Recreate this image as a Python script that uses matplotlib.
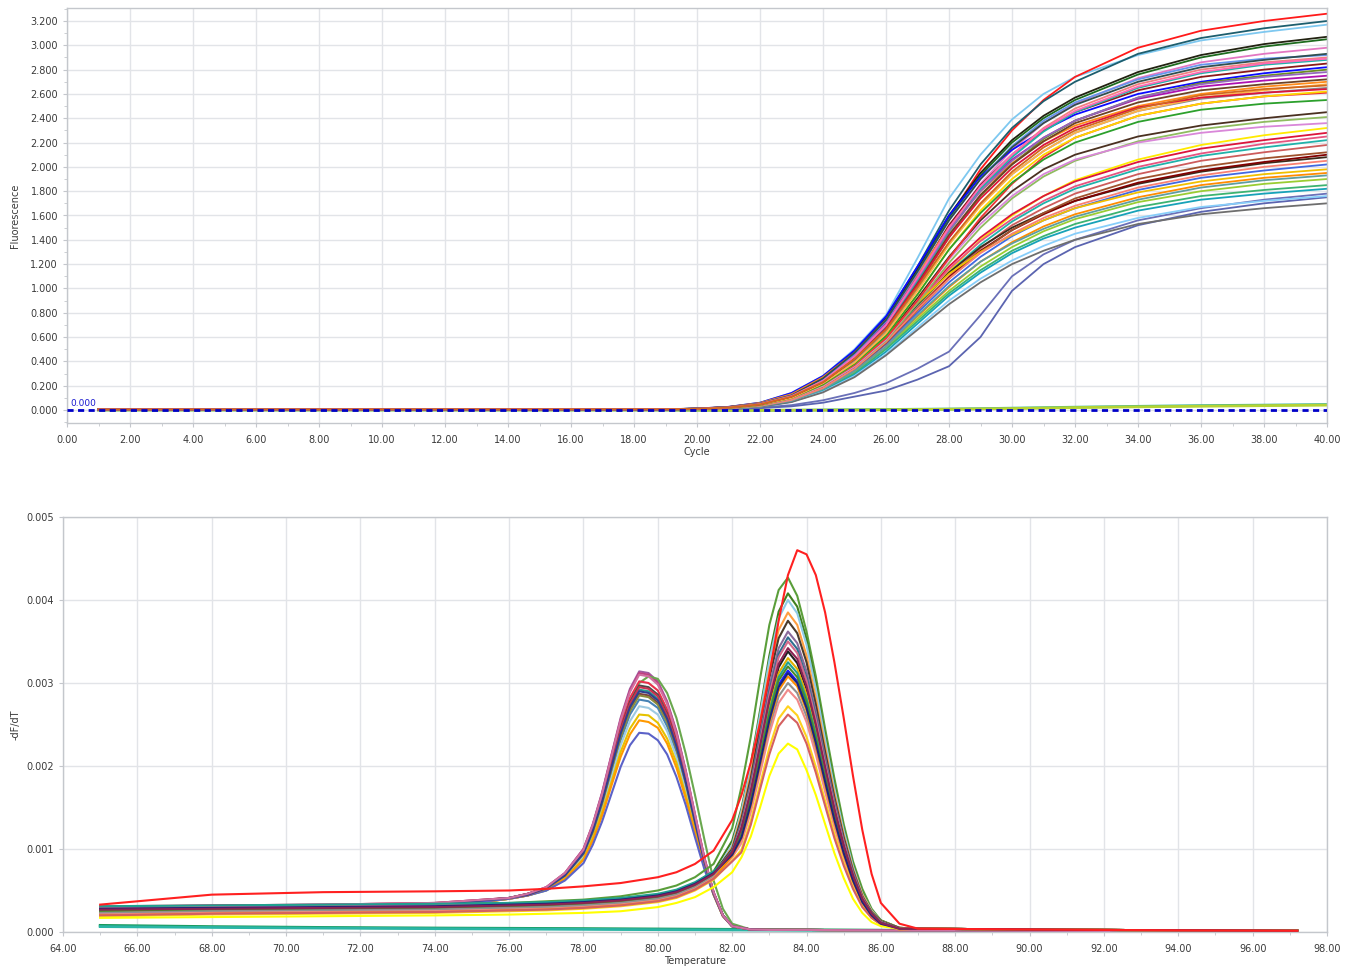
import matplotlib
matplotlib.use("Agg")
import matplotlib.pyplot as plt
from matplotlib.ticker import MultipleLocator, FormatStrFormatter

# ---------------- amplification data (Fluorescence vs Cycle) ----------------
CYCLES = [1, 19, 20, 21, 22, 23, 24, 25, 26, 27, 28, 29, 30, 31, 32, 34, 36, 38, 40]

AMP_UPPER = [
    [0.005,0.006,0.012,0.025,0.06,0.14,0.28,0.50,0.78,1.25,1.74,2.10,2.39,2.60,2.74,2.92,3.04,3.11,3.17],
    [0.005,0.006,0.01,0.022,0.05,0.12,0.25,0.45,0.72,1.12,1.58,1.98,2.30,2.55,2.74,2.98,3.12,3.20,3.26],
    [0.005,0.006,0.011,0.024,0.055,0.13,0.27,0.48,0.76,1.18,1.64,2.02,2.32,2.54,2.70,2.93,3.06,3.14,3.20],
    [0.005,0.006,0.011,0.024,0.056,0.13,0.27,0.48,0.75,1.16,1.60,1.95,2.22,2.42,2.57,2.78,2.92,3.01,3.07],
    [0.005,0.006,0.011,0.023,0.054,0.13,0.26,0.47,0.74,1.14,1.58,1.93,2.20,2.40,2.55,2.76,2.90,2.99,3.05],
    [0.005,0.006,0.01,0.021,0.05,0.12,0.24,0.43,0.69,1.07,1.50,1.86,2.14,2.36,2.52,2.73,2.86,2.93,2.98],
    [0.005,0.006,0.012,0.026,0.06,0.14,0.28,0.49,0.77,1.18,1.60,1.92,2.14,2.30,2.43,2.60,2.70,2.77,2.82],
    [0.005,0.006,0.01,0.022,0.05,0.12,0.25,0.45,0.71,1.10,1.52,1.85,2.10,2.30,2.45,2.63,2.74,2.80,2.85],
    [0.005,0.006,0.011,0.023,0.053,0.12,0.25,0.45,0.72,1.11,1.50,1.82,2.06,2.24,2.38,2.56,2.66,2.71,2.75],
    [0.005,0.006,0.012,0.025,0.058,0.13,0.27,0.47,0.74,1.12,1.50,1.80,2.03,2.21,2.34,2.50,2.60,2.66,2.70],
    [0.005,0.006,0.01,0.02,0.047,0.11,0.23,0.42,0.67,1.04,1.46,1.82,2.10,2.32,2.48,2.68,2.80,2.86,2.90],
    [0.005,0.006,0.01,0.021,0.049,0.115,0.24,0.43,0.68,1.06,1.47,1.82,2.08,2.29,2.45,2.65,2.77,2.84,2.88],
    [0.005,0.006,0.009,0.018,0.042,0.10,0.21,0.38,0.61,0.95,1.32,1.64,1.90,2.10,2.24,2.42,2.52,2.58,2.62],
    [0.005,0.006,0.01,0.02,0.046,0.11,0.23,0.41,0.66,1.02,1.42,1.76,2.02,2.23,2.38,2.57,2.69,2.75,2.80],
    [0.005,0.006,0.01,0.019,0.045,0.105,0.22,0.40,0.64,0.99,1.37,1.69,1.94,2.13,2.28,2.46,2.56,2.61,2.65],
    [0.005,0.006,0.01,0.021,0.05,0.115,0.24,0.44,0.70,1.08,1.48,1.80,2.05,2.24,2.38,2.57,2.68,2.74,2.78],
    [0.005,0.006,0.009,0.018,0.042,0.10,0.21,0.38,0.61,0.95,1.32,1.62,1.87,2.06,2.20,2.37,2.47,2.52,2.55],
    [0.005,0.006,0.009,0.019,0.044,0.10,0.22,0.39,0.63,0.98,1.36,1.68,1.94,2.13,2.28,2.46,2.57,2.63,2.68],
    [0.005,0.006,0.01,0.02,0.046,0.11,0.23,0.42,0.67,1.04,1.44,1.77,2.02,2.21,2.36,2.53,2.63,2.68,2.72],
    [0.005,0.006,0.011,0.022,0.052,0.12,0.25,0.46,0.73,1.13,1.56,1.90,2.17,2.38,2.53,2.72,2.84,2.89,2.92],
    [0.005,0.006,0.01,0.021,0.048,0.11,0.23,0.42,0.67,1.03,1.42,1.74,1.99,2.18,2.32,2.49,2.57,2.61,2.64],
    [0.005,0.006,0.011,0.023,0.053,0.12,0.26,0.47,0.74,1.14,1.56,1.90,2.16,2.36,2.51,2.70,2.82,2.88,2.93],
    [0.005,0.006,0.01,0.021,0.05,0.115,0.24,0.44,0.70,1.09,1.50,1.84,2.10,2.31,2.46,2.66,2.78,2.85,2.89],
    [0.005,0.006,0.01,0.02,0.047,0.11,0.23,0.42,0.66,1.01,1.38,1.70,1.96,2.16,2.30,2.48,2.59,2.64,2.67],
]
AMP_MIDDLE = [
    [0.005,0.006,0.009,0.018,0.042,0.10,0.21,0.38,0.60,0.92,1.26,1.56,1.80,1.98,2.10,2.25,2.34,2.40,2.45],
    [0.005,0.006,0.009,0.017,0.04,0.095,0.20,0.36,0.57,0.88,1.21,1.50,1.74,1.92,2.05,2.21,2.31,2.37,2.41],
    [0.005,0.006,0.009,0.017,0.04,0.095,0.20,0.36,0.58,0.90,1.24,1.53,1.76,1.94,2.06,2.20,2.28,2.33,2.36],
    [0.005,0.006,0.009,0.018,0.041,0.098,0.21,0.37,0.59,0.90,1.25,1.58,1.86,2.08,2.24,2.42,2.52,2.58,2.61],
]
AMP_LOWER = [
    [0.005,0.006,0.008,0.015,0.035,0.085,0.19,0.35,0.56,0.84,1.14,1.40,1.60,1.76,1.89,2.06,2.18,2.26,2.32],
    [0.005,0.006,0.008,0.016,0.038,0.09,0.20,0.37,0.60,0.89,1.18,1.42,1.61,1.76,1.88,2.04,2.15,2.22,2.28],
    [0.005,0.006,0.008,0.015,0.035,0.085,0.19,0.36,0.58,0.86,1.13,1.36,1.55,1.70,1.82,1.98,2.09,2.16,2.22],
    [0.005,0.006,0.008,0.015,0.034,0.083,0.185,0.35,0.57,0.84,1.10,1.33,1.52,1.66,1.78,1.94,2.05,2.12,2.18],
    [0.005,0.006,0.008,0.015,0.035,0.085,0.19,0.36,0.59,0.87,1.13,1.34,1.50,1.62,1.72,1.86,1.96,2.03,2.08],
    [0.005,0.006,0.008,0.014,0.032,0.08,0.18,0.34,0.56,0.83,1.09,1.31,1.48,1.61,1.72,1.87,1.97,2.04,2.10],
    [0.005,0.006,0.008,0.014,0.032,0.078,0.175,0.33,0.54,0.80,1.05,1.26,1.43,1.56,1.66,1.81,1.91,1.97,2.02],
    [0.005,0.006,0.008,0.014,0.03,0.075,0.17,0.32,0.52,0.77,1.01,1.22,1.38,1.51,1.61,1.75,1.85,1.91,1.95],
    [0.005,0.006,0.008,0.014,0.03,0.073,0.165,0.31,0.51,0.75,0.98,1.18,1.34,1.47,1.57,1.71,1.80,1.86,1.90],
    [0.005,0.006,0.008,0.013,0.028,0.07,0.16,0.30,0.50,0.73,0.96,1.15,1.31,1.43,1.53,1.67,1.76,1.81,1.85],
    [0.005,0.006,0.008,0.013,0.028,0.068,0.155,0.29,0.48,0.71,0.94,1.13,1.29,1.41,1.50,1.64,1.73,1.78,1.82],
    [0.005,0.006,0.008,0.013,0.028,0.068,0.15,0.28,0.46,0.68,0.90,1.08,1.23,1.35,1.45,1.58,1.67,1.72,1.76],
    [0.005,0.006,0.008,0.013,0.027,0.065,0.145,0.27,0.45,0.66,0.87,1.05,1.20,1.31,1.40,1.53,1.61,1.66,1.70],
    [0.005,0.006,0.008,0.015,0.036,0.088,0.195,0.36,0.59,0.88,1.16,1.39,1.57,1.72,1.84,2.00,2.11,2.19,2.25],
    [0.005,0.006,0.008,0.015,0.034,0.082,0.18,0.34,0.55,0.82,1.08,1.30,1.48,1.62,1.74,1.90,2.00,2.07,2.12],
    [0.005,0.006,0.009,0.017,0.04,0.095,0.20,0.37,0.60,0.88,1.12,1.30,1.44,1.56,1.66,1.79,1.88,1.94,1.98],
    [0.005,0.006,0.008,0.014,0.031,0.075,0.17,0.32,0.52,0.78,1.02,1.22,1.37,1.49,1.59,1.73,1.83,1.89,1.93],
    [0.005,0.006,0.008,0.015,0.034,0.082,0.18,0.34,0.56,0.83,1.08,1.29,1.45,1.58,1.68,1.83,1.93,2.00,2.05],
]
AMP_SLOW = [
    [0.005,0.005,0.006,0.01,0.02,0.04,0.08,0.14,0.22,0.34,0.48,0.78,1.10,1.28,1.40,1.56,1.66,1.73,1.78],
    [0.005,0.005,0.005,0.008,0.015,0.03,0.06,0.11,0.16,0.25,0.36,0.60,0.98,1.20,1.34,1.52,1.63,1.70,1.75],
]
AMP_FLAT = [
    [0.0,0.0,-0.002,-0.003,-0.003,-0.002,0.0,0.002,0.004,0.006,0.008,0.011,0.015,0.019,0.023,0.03,0.036,0.04,0.045],
    [0.0,0.0,-0.002,-0.003,-0.003,-0.002,-0.001,0.0,0.002,0.004,0.006,0.009,0.012,0.016,0.02,0.026,0.031,0.036,0.04],
]
THRESHOLD = 0.000
AMP_XTICKS = [0, 2, 4, 6, 8, 10, 12, 14, 16, 18, 20, 22, 24, 26, 28, 30, 32, 34, 36, 38, 40]

# ---------------- melt data (-dF/dT vs Temperature), units of 1e-3 ----------------
MELT_SCALE = 1e-3

# product melting near 79.6 C
TEMPS_A = [65, 68, 71, 74,
           76, 76.5, 77, 77.5, 78, 78.25, 78.5, 78.75, 79, 79.25, 79.5, 79.75, 80, 80.25, 80.5, 80.75,
           81, 81.25, 81.5, 81.75, 82, 82.5,
           83, 84, 85, 86, 87, 90, 94, 97.2]
MELT_A_BASE = [
    [0.30,0.32,0.33,0.35],[0.26,0.28,0.30,0.33],[0.22,0.25,0.27,0.30],[0.28,0.30,0.31,0.33],
    [0.24,0.27,0.29,0.32],[0.20,0.23,0.26,0.29],[0.27,0.29,0.31,0.33],[0.23,0.26,0.28,0.31],
    [0.25,0.27,0.29,0.32],[0.19,0.22,0.25,0.28],[0.21,0.24,0.26,0.29],[0.22,0.25,0.27,0.30],
    [0.29,0.31,0.32,0.34],[0.31,0.32,0.33,0.35],[0.26,0.28,0.30,0.33],[0.30,0.31,0.33,0.35],
]
MELT_A_PEAK = [
    [0.41,0.46,0.54,0.71,1.00,1.30,1.68,2.13,2.58,2.93,3.14,3.12,3.02,2.78,2.42,1.95,1.42,0.90,0.48,0.20,0.07,0.03],
    [0.41,0.46,0.54,0.71,1.00,1.29,1.67,2.12,2.56,2.91,3.12,3.10,3.00,2.76,2.41,1.94,1.41,0.90,0.48,0.20,0.07,0.03],
    [0.40,0.44,0.50,0.63,0.88,1.15,1.50,1.93,2.38,2.76,3.00,3.08,3.05,2.88,2.58,2.15,1.65,1.12,0.62,0.28,0.10,0.03],
    [0.41,0.46,0.53,0.70,0.97,1.26,1.62,2.05,2.49,2.82,3.02,3.00,2.91,2.68,2.33,1.88,1.38,0.88,0.47,0.20,0.07,0.03],
    [0.41,0.46,0.53,0.69,0.96,1.24,1.60,2.02,2.44,2.77,2.97,2.95,2.86,2.63,2.29,1.85,1.36,0.87,0.47,0.20,0.07,0.03],
    [0.41,0.45,0.53,0.68,0.95,1.23,1.58,1.99,2.40,2.73,2.92,2.90,2.81,2.59,2.26,1.82,1.34,0.86,0.47,0.20,0.07,0.03],
    [0.41,0.45,0.52,0.68,0.94,1.21,1.55,1.96,2.36,2.68,2.87,2.85,2.76,2.54,2.22,1.80,1.32,0.85,0.46,0.20,0.07,0.03],
    [0.41,0.45,0.52,0.67,0.92,1.19,1.52,1.91,2.31,2.62,2.80,2.78,2.70,2.48,2.17,1.76,1.29,0.84,0.46,0.20,0.07,0.03],
    [0.41,0.45,0.52,0.66,0.91,1.16,1.48,1.86,2.25,2.54,2.72,2.70,2.62,2.42,2.11,1.71,1.26,0.82,0.46,0.20,0.07,0.03],
    [0.40,0.44,0.51,0.65,0.88,1.13,1.44,1.80,2.17,2.45,2.62,2.61,2.52,2.33,2.04,1.65,1.22,0.80,0.45,0.19,0.07,0.03],
    [0.40,0.44,0.51,0.64,0.87,1.10,1.40,1.76,2.11,2.38,2.55,2.53,2.46,2.27,1.98,1.61,1.20,0.79,0.45,0.19,0.07,0.03],
    [0.40,0.44,0.50,0.62,0.83,1.05,1.33,1.66,1.99,2.25,2.40,2.39,2.31,2.14,1.87,1.53,1.14,0.76,0.45,0.19,0.07,0.03],
    [0.41,0.45,0.52,0.68,0.94,1.20,1.54,1.95,2.35,2.66,2.85,2.83,2.74,2.53,2.21,1.79,1.31,0.85,0.46,0.20,0.07,0.03],
    [0.41,0.45,0.53,0.69,0.96,1.24,1.59,2.01,2.43,2.75,2.95,2.93,2.84,2.61,2.28,1.84,1.35,0.86,0.47,0.20,0.07,0.03],
    [0.41,0.45,0.53,0.68,0.95,1.22,1.57,1.98,2.39,2.71,2.90,2.88,2.79,2.57,2.24,1.81,1.33,0.86,0.47,0.20,0.07,0.03],
    [0.41,0.46,0.54,0.71,0.99,1.29,1.66,2.11,2.55,2.89,3.10,3.08,2.98,2.75,2.39,1.93,1.41,0.89,0.48,0.20,0.07,0.03],
]
MELT_A_TAIL = [0.025, 0.025, 0.022, 0.02, 0.02, 0.015, 0.012, 0.01]

# product melting near 83.5 C
TEMPS_B = [65, 68, 71, 74, 76, 77, 78, 79, 80, 80.5, 81, 81.5,
           82, 82.25, 82.5, 82.75, 83, 83.25, 83.5, 83.75, 84, 84.25, 84.5, 84.75, 85, 85.25,
           85.5, 85.75, 86, 86.5,
           87, 90, 94, 97.2]
MELT_B_BASE = [
    [0.33,0.45,0.48,0.49,0.50,0.52,0.55,0.59,0.66,0.72,0.82,0.98],
    [0.30,0.31,0.32,0.33,0.35,0.37,0.39,0.43,0.50,0.56,0.66,0.82],
    [0.29,0.30,0.31,0.32,0.34,0.35,0.37,0.40,0.45,0.50,0.59,0.73],
    [0.25,0.27,0.28,0.29,0.31,0.32,0.34,0.37,0.42,0.47,0.56,0.69],
    [0.24,0.26,0.27,0.28,0.30,0.31,0.33,0.36,0.41,0.46,0.55,0.68],
    [0.28,0.29,0.30,0.31,0.33,0.34,0.36,0.39,0.44,0.49,0.58,0.71],
    [0.27,0.28,0.29,0.30,0.32,0.33,0.35,0.38,0.43,0.48,0.57,0.70],
    [0.26,0.27,0.28,0.29,0.31,0.32,0.34,0.37,0.42,0.47,0.56,0.69],
    [0.30,0.31,0.31,0.32,0.34,0.35,0.36,0.39,0.44,0.49,0.58,0.71],
    [0.27,0.28,0.29,0.30,0.32,0.33,0.35,0.38,0.43,0.48,0.57,0.70],
    [0.22,0.24,0.25,0.26,0.28,0.29,0.31,0.34,0.39,0.44,0.53,0.66],
    [0.31,0.32,0.33,0.34,0.35,0.36,0.38,0.41,0.46,0.51,0.60,0.73],
    [0.27,0.28,0.29,0.30,0.32,0.33,0.35,0.38,0.43,0.48,0.57,0.70],
    [0.25,0.27,0.28,0.29,0.31,0.32,0.34,0.37,0.42,0.47,0.56,0.69],
    [0.23,0.25,0.26,0.27,0.29,0.30,0.32,0.35,0.40,0.45,0.54,0.67],
    [0.21,0.23,0.24,0.25,0.27,0.28,0.30,0.33,0.38,0.43,0.52,0.65],
    [0.20,0.22,0.23,0.24,0.26,0.27,0.29,0.32,0.37,0.42,0.51,0.64],
    [0.19,0.21,0.22,0.23,0.25,0.26,0.28,0.31,0.36,0.41,0.50,0.63],
    [0.20,0.22,0.23,0.24,0.26,0.27,0.29,0.32,0.37,0.42,0.51,0.64],
    [0.17,0.18,0.19,0.20,0.21,0.22,0.23,0.25,0.30,0.35,0.42,0.54],
    [0.28,0.29,0.30,0.31,0.33,0.34,0.36,0.39,0.44,0.49,0.58,0.71],
    [0.27,0.28,0.29,0.30,0.32,0.33,0.35,0.38,0.43,0.48,0.57,0.70],
]
MELT_B_PEAK = [
    [1.35,1.65,2.04,2.52,3.10,3.75,4.30,4.60,4.55,4.30,3.85,3.25,2.58,1.88,1.23,0.70,0.35,0.10],
    [1.25,1.75,2.35,3.05,3.70,4.12,4.27,4.05,3.62,3.08,2.45,1.85,1.30,0.85,0.52,0.28,0.14,0.05],
    [1.10,1.49,2.02,2.67,3.33,3.86,4.08,3.92,3.53,2.99,2.36,1.77,1.24,0.81,0.47,0.26,0.14,0.05],
    [1.05,1.46,1.98,2.62,3.27,3.78,4.00,3.84,3.46,2.93,2.32,1.73,1.22,0.79,0.46,0.26,0.13,0.05],
    [1.02,1.41,1.90,2.52,3.15,3.64,3.85,3.70,3.33,2.82,2.23,1.67,1.17,0.76,0.45,0.25,0.13,0.05],
    [1.00,1.37,1.85,2.46,3.06,3.54,3.75,3.60,3.25,2.74,2.17,1.62,1.14,0.74,0.43,0.24,0.13,0.05],
    [0.98,1.32,1.79,2.37,2.96,3.42,3.62,3.48,3.14,2.65,2.10,1.57,1.10,0.72,0.42,0.23,0.12,0.04],
    [0.98,1.30,1.75,2.33,2.90,3.35,3.55,3.41,3.07,2.60,2.06,1.54,1.08,0.70,0.41,0.23,0.12,0.04],
    [0.96,1.28,1.73,2.29,2.86,3.31,3.50,3.36,3.03,2.56,2.03,1.52,1.07,0.69,0.41,0.22,0.12,0.04],
    [0.96,1.24,1.67,2.21,2.76,3.19,3.38,3.24,2.93,2.47,1.96,1.46,1.03,0.67,0.39,0.22,0.11,0.04],
    [0.95,1.21,1.63,2.16,2.70,3.12,3.30,3.17,2.86,2.41,1.91,1.43,1.01,0.65,0.38,0.21,0.11,0.04],
    [0.94,1.19,1.61,2.13,2.66,3.07,3.25,3.12,2.81,2.38,1.88,1.41,0.99,0.64,0.38,0.21,0.11,0.04],
    [0.93,1.15,1.56,2.06,2.57,2.98,3.15,3.02,2.73,2.30,1.82,1.36,0.96,0.62,0.36,0.20,0.11,0.04],
    [0.94,1.17,1.58,2.10,2.62,3.03,3.20,3.07,2.77,2.34,1.85,1.39,0.98,0.63,0.37,0.20,0.11,0.04],
    [0.91,1.10,1.48,1.97,2.45,2.84,3.00,2.88,2.60,2.20,1.74,1.30,0.92,0.59,0.35,0.19,0.10,0.04],
    [0.90,1.07,1.44,1.91,2.39,2.76,2.92,2.80,2.53,2.14,1.69,1.26,0.89,0.58,0.34,0.19,0.10,0.04],
    [0.92,1.13,1.52,2.02,2.52,2.91,3.08,2.96,2.67,2.25,1.78,1.33,0.94,0.61,0.36,0.20,0.10,0.04],
    [0.86,0.99,1.34,1.78,2.22,2.57,2.72,2.61,2.35,1.99,1.58,1.18,0.83,0.54,0.32,0.17,0.09,0.03],
    [0.85,0.96,1.29,1.72,2.14,2.48,2.62,2.52,2.27,1.92,1.52,1.13,0.80,0.52,0.30,0.17,0.09,0.03],
    [0.72,0.90,1.15,1.50,1.88,2.15,2.27,2.20,1.95,1.65,1.30,0.95,0.65,0.40,0.23,0.12,0.07,0.04],
    [0.93,1.14,1.54,2.04,2.55,2.95,3.12,3.00,2.70,2.28,1.81,1.35,0.95,0.62,0.36,0.20,0.10,0.04],
    [0.96,1.25,1.69,2.24,2.80,3.23,3.42,3.29,2.96,2.50,1.98,1.48,1.04,0.68,0.40,0.22,0.11,0.04],
]
MELT_B_TAIL = [0.04, 0.03, 0.02, 0.015]

# no-product wells
TEMPS_FLAT = [65, 68, 71, 74, 78, 82, 86, 90, 94, 97.2]
MELT_FLAT = [
    [0.08, 0.065, 0.055, 0.048, 0.041, 0.032, 0.022, 0.016, 0.013, 0.010],
    [0.065, 0.055, 0.047, 0.040, 0.032, 0.024, 0.016, 0.012, 0.010, 0.008],
]
MELT_XTICKS = [64, 66, 68, 70, 72, 74, 76, 78, 80, 82, 84, 86, 88, 90, 92, 94, 96, 98]

# ---------------- styles ----------------
UPPER_COLORS = ["#7ec8f0", "#ff1a1a", "#1d5e6e", "#222211", "#1e6b1e", "#e377c2", "#0a0aff",
                "#8b1a1a", "#b010b0", "#ff8c1a", "#f08080", "#20b2aa", "#ffd700", "#6b8e23",
                "#8a8a8a", "#9467bd", "#2ca02c", "#ffb347", "#6b4226", "#6495ed", "#dc143c",
                "#2f4f4f", "#ff69b4", "#d2691e"]
MIDDLE_COLORS = ["#4a3020", "#8fbc5f", "#d987d9", "#ee3333"]
LOWER_COLORS = ["#ffea00", "#dc143c", "#20b2aa", "#cd5c5c", "#3b2a1a", "#800000", "#4169e1",
                "#ff8c00", "#9acd32", "#3cb371", "#17a2b8", "#87cefa", "#6e6e6e", "#e75480",
                "#a0522d", "#f0c000", "#5f9ea0", "#fa8072"]
SLOW_COLORS = ["#6a70b8", "#5b64b0"]
FLAT_COLORS = ["#3cb39a", "#b5d334"]
A_COLORS = ["#a05aa0", "#c04080", "#6aa84f", "#e8304a", "#4a4a4a", "#2a9d8f", "#7b3f3f", "#4682b4",
            "#9ecae1", "#e6c200", "#ff9900", "#5b62c8", "#8c8c3c", "#c83250", "#2f3f8f", "#d070a0"]
B_COLORS = ["#ff2020", "#5a9e3a", "#3f7f1f", "#8ecae6", "#ff9f40", "#4b3b2b", "#8a6a9a", "#2f6f8f",
            "#d46a8a", "#202020", "#e0b000", "#20a090", "#1a1aff", "#4a8a2a", "#909090", "#f08a8a",
            "#ff8c00", "#ffd21f", "#d46060", "#ffff00", "#1a237e", "#8b2252"]
MELT_FLAT_COLORS = ["#1a9a5a", "#2ab5a5"]

GRID_C = "#e2e4e8"
SPINE_C = "#c4c7cc"
TEXT_C = "#3a3a3a"

plt.rcParams["font.family"] = ["DejaVu Sans"]

fig = plt.figure(figsize=(13.52, 9.71), dpi=100)
W, H = 1352.0, 971.0
ax1 = fig.add_axes([67 / W, 1 - 423 / H, 1260 / W, 415 / H])
ax2 = fig.add_axes([63 / W, 1 - 932 / H, 1264 / W, 415 / H])


def style_axes(ax):
    for s in ax.spines.values():
        s.set_color(SPINE_C)
        s.set_linewidth(1.0)
    ax.grid(True, which="major", color=GRID_C, linewidth=1.0, zorder=0)
    ax.set_axisbelow(True)
    ax.tick_params(which="major", length=3, color=SPINE_C, labelsize=7, labelcolor=TEXT_C)
    ax.tick_params(which="minor", length=2.5, color=SPINE_C)
    ax.tick_params(axis="x", which="major", pad=5.5)
    ax.tick_params(axis="y", which="major", pad=3.5)


# ---------------- top panel ----------------
style_axes(ax1)
lw_top = 1.3
for vals, c in zip(AMP_FLAT, FLAT_COLORS):
    ax1.plot(CYCLES, vals, color=c, lw=2.0, zorder=2)
for vals, c in zip(AMP_SLOW, SLOW_COLORS):
    ax1.plot(CYCLES, vals, color=c, lw=lw_top, zorder=2)
for vals, c in zip(AMP_LOWER, LOWER_COLORS):
    ax1.plot(CYCLES, vals, color=c, lw=lw_top, zorder=2)
for vals, c in zip(AMP_MIDDLE, MIDDLE_COLORS):
    ax1.plot(CYCLES, vals, color=c, lw=lw_top, zorder=2)
for vals, c in zip(AMP_UPPER, UPPER_COLORS):
    ax1.plot(CYCLES, vals, color=c, lw=lw_top, zorder=2)

ax1.plot([0, 40], [THRESHOLD, THRESHOLD], color="#0000c8", lw=2.0, dashes=(2.2, 1.6), zorder=5)
ax1.text(0.12, THRESHOLD + 0.02, "%.3f" % THRESHOLD, color="#1a1ad0", fontsize=6.5,
         ha="left", va="bottom", zorder=6)

ax1.set_xlim(0, 40)
ax1.set_ylim(-0.107, 3.307)
ax1.set_xticks(AMP_XTICKS)
ax1.xaxis.set_minor_locator(MultipleLocator(1))
ax1.yaxis.set_major_locator(MultipleLocator(0.2))
ax1.yaxis.set_minor_locator(MultipleLocator(0.1))
ax1.xaxis.set_major_formatter(FormatStrFormatter("%.2f"))
ax1.yaxis.set_major_formatter(FormatStrFormatter("%.3f"))
ax1.set_xlabel("Cycle", fontsize=7, color=TEXT_C)
ax1.set_ylabel("Fluorescence", fontsize=7, color=TEXT_C)
ax1.xaxis.set_label_coords(0.5, -0.058)
ax1.yaxis.set_label_coords(-0.037, 0.5)

# ---------------- bottom panel ----------------
style_axes(ax2)
lw_bot = 1.5


def to_units(row):
    return [v * MELT_SCALE for v in row]


for vals, c in zip(MELT_FLAT, MELT_FLAT_COLORS):
    ax2.plot(TEMPS_FLAT, to_units(vals), color=c, lw=2.0, zorder=2)
for base, peak, c in zip(MELT_A_BASE, MELT_A_PEAK, A_COLORS):
    ax2.plot(TEMPS_A, to_units(base + peak + MELT_A_TAIL), color=c, lw=lw_bot, zorder=2)
b_order = list(range(1, len(MELT_B_PEAK))) + [0]
for i in b_order:
    row = MELT_B_BASE[i] + MELT_B_PEAK[i] + MELT_B_TAIL
    ax2.plot(TEMPS_B, to_units(row), color=B_COLORS[i], lw=lw_bot, zorder=3 if i == 0 else 2)

ax2.set_xlim(64, 98)
ax2.set_ylim(0, 0.005)
ax2.set_xticks(MELT_XTICKS)
ax2.xaxis.set_minor_locator(MultipleLocator(1))
ax2.yaxis.set_major_locator(MultipleLocator(0.001))
ax2.xaxis.set_major_formatter(FormatStrFormatter("%.2f"))
ax2.yaxis.set_major_formatter(FormatStrFormatter("%.3f"))
ax2.set_xlabel("Temperature", fontsize=7, color=TEXT_C)
ax2.set_ylabel("-dF/dT", fontsize=7, color=TEXT_C)
ax2.xaxis.set_label_coords(0.5, -0.058)
ax2.yaxis.set_label_coords(-0.034, 0.5)

fig.savefig("out.png", dpi=100, facecolor="white")
